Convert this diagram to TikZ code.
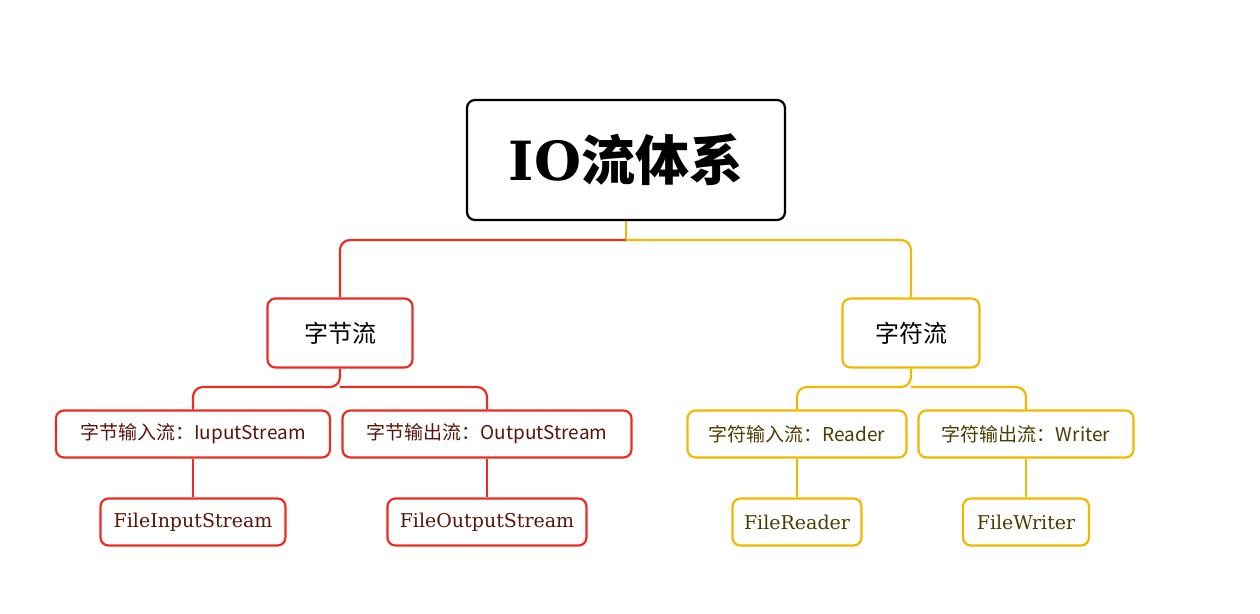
\documentclass[tikz,border=0pt]{standalone}
\usepackage{fontspec}
\setmainfont{DejaVu Serif}
\newfontfamily\cjk{Noto Sans CJK SC}
\begin{document}
\begin{tikzpicture}[x=1pt,y=-1pt,
  box/.style={draw,line width=2.2pt,rounded corners=8pt,inner sep=0pt,align=center},
  rb/.style={box,draw=myred,text=mytr},
  yb/.style={box,draw=myyel,text=myty},
  rl/.style={draw=myred,line width=2.2pt,rounded corners=10pt},
  yl/.style={draw=myyel,line width=2.2pt,rounded corners=10pt}]
\definecolor{myred}{RGB}{235,45,35}
\definecolor{myyel}{RGB}{240,185,0}
\definecolor{mytr}{RGB}{90,20,10}
\definecolor{myty}{RGB}{75,60,0}
\useasboundingbox (0,0) rectangle (1260,613);
\node[box,draw=black,minimum width=318pt,minimum height=120pt,font=\bfseries\fontsize{54}{60}\selectfont] (root) at (626,160) {IO\cjk{流体系}};
\node[rb,minimum width=145pt,minimum height=69pt,text=black,font=\cjk\fontsize{24}{28}\selectfont] (a) at (340,333) {字节流};
\node[yb,minimum width=137pt,minimum height=69pt,text=black,font=\cjk\fontsize{24}{28}\selectfont] (b) at (911,333) {字符流};
\tikzset{mid/.style={minimum height=47pt,font=\fontsize{19}{22}\selectfont}}
\node[rb,mid,minimum width=274pt] (a1) at (193,434) {\cjk{字节输入流：}IuputStream};
\node[rb,mid,minimum width=289pt] (a2) at (487,434) {\cjk{字节输出流：}OutputStream};
\node[yb,mid,minimum width=219pt] (b1) at (797,434) {\cjk{字符输入流：}Reader};
\node[yb,mid,minimum width=215pt] (b2) at (1026,434) {\cjk{字符输出流：}Writer};
\node[rb,mid,minimum width=185pt] (a11) at (193,522) {FileInputStream};
\node[rb,mid,minimum width=199pt] (a21) at (487,522) {FileOutputStream};
\node[yb,mid,minimum width=129pt] (b11) at (797,522) {FileReader};
\node[yb,mid,minimum width=126pt] (b21) at (1026,522) {FileWriter};
\coordinate (m) at (626,240);
\draw[yl] (root.south) -- (m);
\draw[rl] (m) -| (a.north);
\draw[yl] (m) -| (b.north);
\coordinate (ma) at (340,387);
\coordinate (mb) at (911,387);
\draw[rl] (a.south) -- (ma) -| (a1.north);
\draw[rl] (ma) -| (a2.north);
\draw[yl] (b.south) -- (mb) -| (b1.north);
\draw[yl] (mb) -| (b2.north);
\draw[rl] (a1) -- (a11);
\draw[rl] (a2) -- (a21);
\draw[yl] (b1) -- (b11);
\draw[yl] (b2) -- (b21);
\end{tikzpicture}
\end{document}
